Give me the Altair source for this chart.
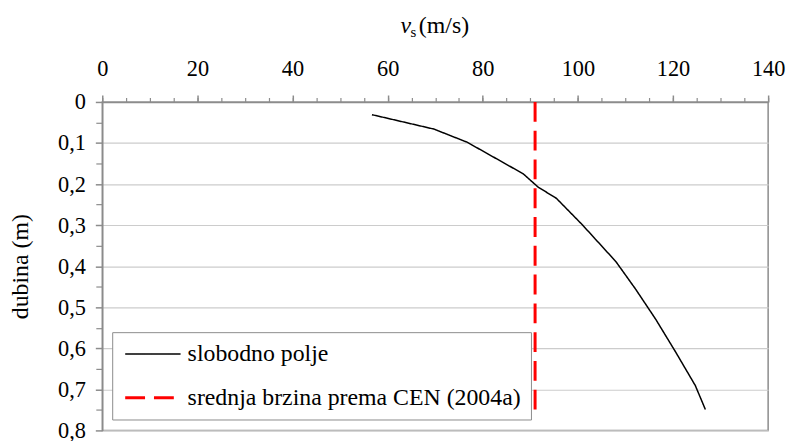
import altair as alt
import pandas as pd

# ---- data ----
depth_m = [0.031, 0.066, 0.098, 0.143, 0.175, 0.207, 0.235, 0.300, 0.389,
           0.457, 0.530, 0.610, 0.691, 0.749]
vs_free_field = [56.7, 69.7, 76.7, 83.6, 88.5, 91.6, 95.5, 101.0, 108.0,
                 112.2, 116.4, 120.6, 124.7, 126.8]
cen_mean_vs = 91.0
cen_depth = [0.0, 0.75]
series_names = ["slobodno polje", "srednja brzina prema CEN (2004a)"]

x_major = [0, 20, 40, 60, 80, 100, 120, 140]
x_minor = [0, 5, 10, 15, 20, 25, 30, 35, 40, 45, 50, 55, 60, 65, 70, 75, 80,
           85, 90, 95, 100, 105, 110, 115, 120, 125, 130, 135, 140]
y_major = [0, 0.1, 0.2, 0.3, 0.4, 0.5, 0.6, 0.7, 0.8]
y_minor = [0.05, 0.15, 0.25, 0.35, 0.45, 0.55, 0.65, 0.75]

rows = []
for i, (d, v) in enumerate(zip(depth_m, vs_free_field)):
    rows.append({"series": series_names[0], "vs": v, "depth": d, "idx": i})
for i, d in enumerate(cen_depth):
    rows.append({"series": series_names[1], "vs": cen_mean_vs, "depth": d, "idx": i})
df = pd.DataFrame(rows)

FONT = "Liberation Serif"
AX = "#8c8c8c"
GRID = "#cccccc"
W, H = 671, 331

xscale = alt.Scale(domain=[0, 140], nice=False, zero=False)
yscale = alt.Scale(domain=[0, 0.8], reverse=True, nice=False, zero=False)

lines = alt.Chart(df).mark_line(clip=False).encode(
    x=alt.X("vs:Q", scale=xscale,
            axis=alt.Axis(orient="top", values=x_major, tickSize=7, tickColor=AX,
                          domainColor=AX, domainWidth=1.5, tickWidth=1.5,
                          labelFont=FONT, labelFontSize=22.5, labelColor="black",
                          labelBaseline="alphabetic", labelPadding=20,
                          labelFlush=False, grid=False, title=None)),
    y=alt.Y("depth:Q", scale=yscale,
            axis=alt.Axis(orient="left", values=y_major, tickSize=7, tickColor=AX,
                          domainColor=AX, domainWidth=1.5, tickWidth=1.5,
                          grid=True, gridColor=GRID, gridWidth=1.2,
                          labelFont=FONT, labelFontSize=22.5, labelColor="black",
                          labelPadding=10, labelFlush=False,
                          labelExpr="datum.value == 0 ? '0' : replace(format(datum.value, '.1f'), '.', ',')",
                          title="dubina  (m)", titleFont=FONT, titleFontSize=24,
                          titleFontWeight="normal", titleColor="black",
                          titleAngle=270, titleBaseline="alphabetic",
                          titleX=-75, titleY=H / 2, titleAlign="center")),
    color=alt.Color("series:N", scale=alt.Scale(domain=series_names, range=["#000000", "#ff0000"])),
    strokeDash=alt.StrokeDash("series:N", scale=alt.Scale(domain=series_names, range=[[1, 0], [20, 9]])),
    strokeWidth=alt.StrokeWidth("series:N", scale=alt.Scale(domain=series_names, range=[1.5, 3])),
    order=alt.Order("idx:Q"),
)

minor = alt.Chart(df).mark_point(opacity=0).encode(
    x=alt.X("vs:Q", scale=xscale,
            axis=alt.Axis(orient="top", values=x_minor, tickSize=4.5, tickColor=AX,
                          tickWidth=1.2, domain=False, labels=False, grid=False, title=None)),
    y=alt.Y("depth:Q", scale=yscale,
            axis=alt.Axis(orient="left", values=y_minor, tickSize=6.5, tickColor=AX,
                          tickWidth=1.2, domain=False, labels=False, grid=False, title=None)),
)

t_v = alt.Chart(pd.DataFrame({"t": ["v"]})).mark_text(
    font=FONT, fontSize=24, fontStyle="italic", align="left", baseline="alphabetic", color="black"
).encode(text="t:N", x=alt.value(300.5), y=alt.value(-69.5))
t_s = alt.Chart(pd.DataFrame({"t": ["s"]})).mark_text(
    font=FONT, fontSize=15, align="left", baseline="alphabetic", color="black"
).encode(text="t:N", x=alt.value(310.5), y=alt.value(-65.5))
t_u = alt.Chart(pd.DataFrame({"t": ["(m/s)"]})).mark_text(
    font=FONT, fontSize=24, align="left", baseline="alphabetic", color="black"
).encode(text="t:N", x=alt.value(319), y=alt.value(-69.5))

chart = alt.layer(lines, minor, t_v, t_s, t_u).resolve_axis(
    x="independent", y="independent"
).properties(
    width=W, height=H,
    autosize=alt.AutoSizeParams(type="none"),
    padding={"left": 95, "top": 93, "right": 18, "bottom": 10},
).configure(
    font=FONT
).configure_view(
    stroke=AX, strokeWidth=1.5
).configure_legend(
    orient="none", legendX=10, legendY=232, title=None,
    padding=10, strokeColor=AX, fillColor="white",
    labelFont=FONT, labelFontSize=24, labelColor="black", labelLimit=0,
    symbolType="M-3.1,0H3.1", symbolSize=324, symbolOffset=19,
    labelOffset=23, rowPadding=20, symbolFillColor="transparent",
)

chart.save("out.html", embed_options={"renderer": "svg", "actions": False})
